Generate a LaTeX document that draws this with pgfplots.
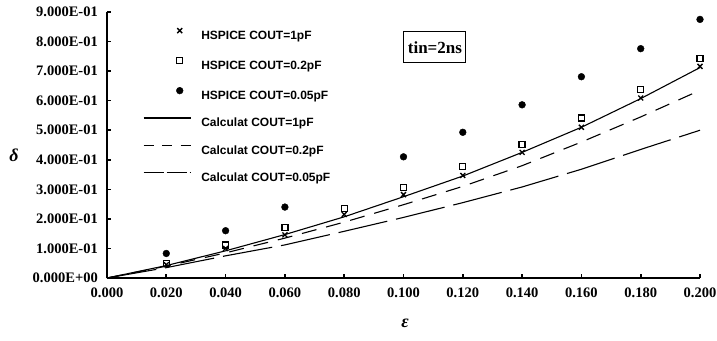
\documentclass[border=0pt]{standalone}
\usepackage{fontspec}
\setmainfont{Liberation Serif}
\newfontfamily\legfont{Liberation Sans}
\usepackage{pgfplots}
\pgfplotsset{compat=1.18}
\pgfplotsset{
  markleg/.style={legend image code/.code={\draw[##1] plot coordinates {(36pt,4.3pt)};}},
  lineleg/.style={legend image code/.code={\draw[##1] (0pt,4.3pt) -- (47pt,4.3pt);}},
  dashleg/.style={legend image code/.code={\draw[##1, dash pattern=on 10pt off 8.5pt] (0pt,4.3pt) -- (47pt,4.3pt);}},
  ldashleg/.style={legend image code/.code={\draw[##1, dash pattern=on 20pt off 3pt] (0pt,4.3pt) -- (47pt,4.3pt);}},
}
\begin{document}
\begin{tikzpicture}
\begin{axis}[
  scale only axis, width=593pt, height=266pt,
  xmin=0, xmax=0.2, ymin=0, ymax=0.9,
  axis x line=bottom, axis y line=left,
  axis line style={line width=2.8pt, -},
  xtick={0,0.02,0.04,0.06,0.08,0.1,0.12,0.14,0.16,0.18,0.2},
  xticklabels={0.000,0.020,0.040,0.060,0.080,0.100,0.120,0.140,0.160,0.180,0.200},
  ytick={0,0.1,0.2,0.3,0.4,0.5,0.6,0.7,0.8,0.9},
  yticklabels={0.000E+00,1.000E-01,2.000E-01,3.000E-01,4.000E-01,5.000E-01,6.000E-01,7.000E-01,8.000E-01,9.000E-01},
  tick align=inside, major tick length=4pt,
  tick style={line width=1.6pt, black},
  ticklabel style={font=\fontsize{14.5}{15}\selectfont\bfseries, inner sep=0pt},
  yticklabel style={xshift=-9pt},
  xticklabel style={yshift=-10pt},
  xlabel={\bfseries\itshape ε},
  ylabel={\bfseries\itshape δ},
  every axis x label/.style={at={(axis description cs:0.5025,-0.169)}, anchor=center, font=\fontsize{18}{18}\selectfont},
  every axis y label/.style={at={(axis description cs:-0.157,0.462)}, anchor=center, font=\fontsize{18}{18}\selectfont},
  legend style={draw=none, fill=none, at={(axis description cs:0.0607,0.94)}, anchor=north west,
    inner sep=0pt, row sep=18pt, column sep=10pt,
    font=\legfont\fontsize{12}{12}\selectfont\bfseries,
    nodes={inner sep=0pt, text height=9pt, text depth=0pt}},
  legend cell align=left,
  clip=false,
]
\addplot[only marks, mark=x, mark size=3.5pt, line width=1.3pt, markleg]
  coordinates {(0.02,0.045) (0.04,0.100) (0.06,0.146) (0.08,0.215) (0.10,0.282) (0.12,0.347) (0.14,0.425) (0.16,0.510) (0.18,0.609) (0.20,0.716)};
\addlegendentry{HSPICE COUT=1pF}
\addplot[only marks, mark=square, mark size=3pt, line width=1.3pt, markleg]
  coordinates {(0.02,0.050) (0.04,0.112) (0.06,0.170) (0.08,0.235) (0.10,0.306) (0.12,0.377) (0.14,0.452) (0.16,0.541) (0.18,0.637) (0.20,0.742)};
\addlegendentry{HSPICE COUT=0.2pF}
\addplot[only marks, mark=*, mark size=3.4pt, markleg]
  coordinates {(0.02,0.083) (0.04,0.160) (0.06,0.240) (0.10,0.410) (0.12,0.493) (0.14,0.586) (0.16,0.681) (0.18,0.776) (0.20,0.875)};
\addlegendentry{HSPICE COUT=0.05pF}
\addplot[no marks, line width=1.1pt, lineleg]
  coordinates {(0,0) (0.02,0.042) (0.04,0.092) (0.06,0.147) (0.08,0.207) (0.10,0.275) (0.12,0.345) (0.14,0.425) (0.16,0.510) (0.18,0.607) (0.20,0.712)};
\addlegendentry{Calculat COUT=1pF}
\addplot[no marks, line width=1.1pt, dash pattern=on 15pt off 10pt, dashleg]
  coordinates {(0,0) (0.02,0.040) (0.04,0.085) (0.06,0.135) (0.08,0.189) (0.10,0.248) (0.12,0.310) (0.14,0.380) (0.16,0.460) (0.18,0.545) (0.20,0.635)};
\addlegendentry{Calculat COUT=0.2pF}
\addplot[no marks, line width=1.1pt, dash pattern=on 50pt off 9pt, ldashleg]
  coordinates {(0,0) (0.02,0.035) (0.04,0.075) (0.06,0.112) (0.08,0.158) (0.10,0.205) (0.12,0.255) (0.14,0.308) (0.16,0.368) (0.18,0.435) (0.20,0.500)};
\addlegendentry{Calculat COUT=0.05pF}
\node[draw, line width=1pt, minimum width=62pt, minimum height=31pt, inner sep=0pt,
  font=\fontsize{17}{17}\selectfont\bfseries] at (axis description cs:0.553,0.867) {tin=2ns};
\end{axis}
\pgfresetboundingbox
\path[use as bounding box] (-107pt,-62pt) rectangle (610pt,278pt);
\end{tikzpicture}
\end{document}
